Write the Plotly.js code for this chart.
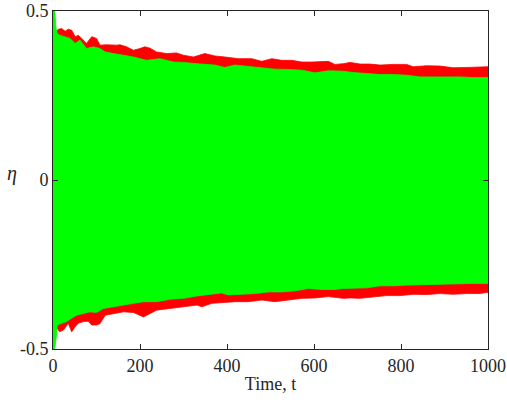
<!DOCTYPE html>
<html>
<head>
<meta charset="utf-8">
<script src="https://cdn.plot.ly/plotly-3.0.1.min.js"></script>
<style>html,body{margin:0;padding:0;background:#fff;}#chart{width:507px;height:403px;}</style>
</head>
<body>
<div id="chart"></div>
<script>
// Upper edge of red (outer) envelope
const tUpRed = [8, 12, 20, 28, 35, 43, 51, 58, 66, 77, 89, 100, 108, 123, 146, 154, 169, 185, 200, 211, 223, 238, 261, 284, 300, 323, 349, 372, 395, 426, 457, 480, 503, 526, 549, 572, 595, 618, 633, 648, 667, 683, 706, 729, 752, 782, 813, 828, 859, 890, 920, 951, 982, 1000];
const upRed = [0.44, 0.446, 0.448, 0.44, 0.446, 0.443, 0.424, 0.428, 0.419, 0.404, 0.424, 0.419, 0.399, 0.40, 0.399, 0.40, 0.394, 0.384, 0.389, 0.394, 0.39, 0.379, 0.374, 0.376, 0.369, 0.364, 0.374, 0.367, 0.364, 0.359, 0.359, 0.351, 0.359, 0.354, 0.354, 0.349, 0.349, 0.349, 0.351, 0.342, 0.344, 0.348, 0.343, 0.343, 0.34, 0.342, 0.342, 0.335, 0.338, 0.337, 0.332, 0.333, 0.333, 0.335];
// Lower edge of red envelope
const tLoRed = [8, 15, 24, 35, 43, 51, 58, 70, 81, 89, 100, 108, 120, 139, 162, 185, 208, 238, 269, 300, 331, 342, 365, 388, 418, 449, 480, 510, 541, 572, 602, 633, 667, 683, 706, 736, 767, 798, 828, 859, 890, 920, 951, 982, 1000];
const loRed = [-0.435, -0.449, -0.444, -0.424, -0.449, -0.434, -0.424, -0.419, -0.418, -0.429, -0.429, -0.425, -0.40, -0.395, -0.39, -0.392, -0.405, -0.385, -0.38, -0.375, -0.37, -0.375, -0.365, -0.364, -0.36, -0.36, -0.355, -0.36, -0.355, -0.35, -0.349, -0.345, -0.35, -0.349, -0.35, -0.345, -0.342, -0.342, -0.338, -0.339, -0.336, -0.338, -0.336, -0.336, -0.332];
// Upper edge of green (inner) envelope
const tUpGreen = [0, 4, 7, 10, 16, 28, 39, 51, 62, 77, 93, 108, 120, 139, 162, 185, 215, 246, 277, 300, 331, 349, 372, 395, 418, 449, 480, 510, 541, 572, 602, 633, 667, 690, 721, 752, 782, 813, 844, 874, 905, 936, 966, 1000];
const upGreen = [0.5, 0.5, 0.448, 0.433, 0.428, 0.424, 0.419, 0.404, 0.414, 0.389, 0.394, 0.389, 0.379, 0.374, 0.369, 0.364, 0.354, 0.359, 0.349, 0.348, 0.344, 0.342, 0.34, 0.333, 0.34, 0.336, 0.332, 0.328, 0.327, 0.325, 0.317, 0.323, 0.322, 0.318, 0.315, 0.312, 0.312, 0.31, 0.305, 0.306, 0.305, 0.305, 0.303, 0.303];
// Lower edge of green envelope
const tLoGreen = [0, 4, 7, 10, 20, 31, 43, 54, 70, 85, 100, 116, 139, 162, 185, 208, 238, 269, 300, 331, 357, 388, 403, 434, 464, 495, 526, 556, 587, 618, 648, 667, 690, 721, 752, 782, 813, 844, 874, 905, 936, 966, 1000];
const loGreen = [-0.5, -0.5, -0.469, -0.429, -0.424, -0.419, -0.409, -0.40, -0.395, -0.39, -0.392, -0.38, -0.375, -0.37, -0.365, -0.36, -0.36, -0.353, -0.35, -0.343, -0.338, -0.334, -0.34, -0.338, -0.336, -0.331, -0.331, -0.328, -0.321, -0.324, -0.324, -0.321, -0.319, -0.319, -0.313, -0.313, -0.311, -0.309, -0.309, -0.308, -0.308, -0.306, -0.306];

const xTicks = [0, 200, 400, 600, 800, 1000];
const xTickText = ['0', '200', '400', '600', '800', '1000'];
const yTicks = [-0.5, 0, 0.5];
const yTickText = ['-0.5', '0', '0.5'];

function band(tu, vu, tl, vl) {
  return {
    x: tu.concat(tl.slice().reverse()),
    y: vu.concat(vl.slice().reverse())
  };
}
const rb = band(tUpRed, upRed, tLoRed, loRed);
const gb = band(tUpGreen, upGreen, tLoGreen, loGreen);

const SERIF = 'Liberation Serif';
const font = {family: SERIF, size: 18, color: '#262626'};
const axisBase = {
  showgrid: false, zeroline: false, showline: true, linecolor: '#262626', linewidth: 1,
  mirror: 'ticks', ticks: 'inside', ticklen: 5, tickcolor: '#262626', tickwidth: 1,
  tickfont: font
};

const data = [
  {x: rb.x, y: rb.y, type: 'scatter', mode: 'lines', fill: 'toself', fillcolor: '#ff0000',
   line: {color: '#ff0000', width: 0.8}, hoverinfo: 'skip', showlegend: false},
  {x: gb.x, y: gb.y, type: 'scatter', mode: 'lines', fill: 'toself', fillcolor: '#00ff00',
   line: {color: '#00ff00', width: 0.8}, hoverinfo: 'skip', showlegend: false}
];

const layout = {
  width: 507, height: 403,
  font: font,
  margin: {l: 53, r: 19, t: 11, b: 54},
  paper_bgcolor: '#ffffff', plot_bgcolor: '#ffffff',
  showlegend: false,
  xaxis: Object.assign({}, axisBase, {
    range: [0, 1000], tickvals: xTicks, ticktext: xTickText,
    title: {text: 'Time, t', font: font, standoff: 2}
  }),
  yaxis: Object.assign({}, axisBase, {
    range: [-0.5, 0.5], tickvals: yTicks, ticktext: yTickText
  }),
  annotations: [{
    text: '<i>η</i>', xref: 'paper', yref: 'paper', x: -0.095, y: 0.52,
    xanchor: 'center', yanchor: 'middle', showarrow: false,
    font: {family: SERIF, size: 20, color: '#262626'}
  }]
};

Plotly.newPlot('chart', data, layout, {displayModeBar: false, staticPlot: true});
</script>
</body>
</html>
